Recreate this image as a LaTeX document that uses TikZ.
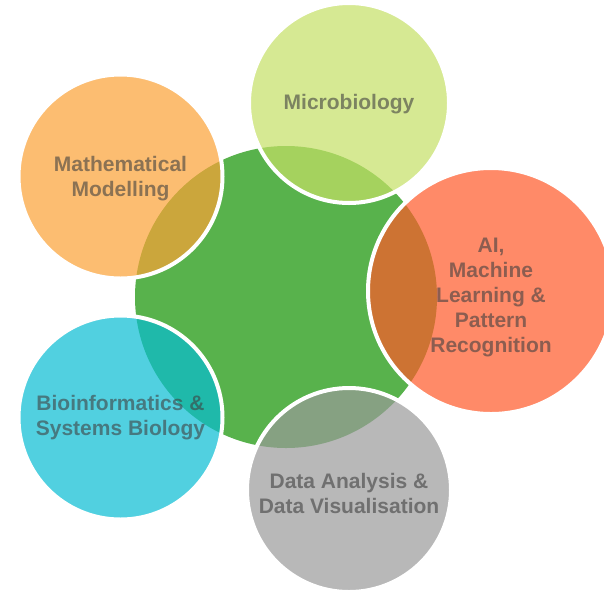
\documentclass[tikz,border=0pt]{standalone}
\usepackage{fontspec}
\setmainfont{Liberation Sans}
\definecolor{hubgreen}{RGB}{88,178,76}
\definecolor{microcol}{RGB}{198,225,102}
\definecolor{mathcol}{RGB}{252,162,54}
\definecolor{aicol}{RGB}{255,89,41}
\definecolor{biocol}{RGB}{8,189,211}
\definecolor{datacol}{RGB}{154,154,154}
\tikzset{
  hub/.style={circle, fill=hubgreen, inner sep=0pt, minimum size=302pt},
  topic/.style={circle, inner sep=0pt, draw=white, line width=4pt,
    fill opacity=0.7, draw opacity=1},
  topictext/.style={inner sep=0pt, text=black!75, text opacity=0.6,
    align=center, font=\fontsize{21}{25}\selectfont\bfseries},
}
\begin{document}
\begin{tikzpicture}[x=1pt,y=-1pt]
  \clip (0,0) rectangle (604,595);
  \fill[white] (0,0) rectangle (604,595);
  % central disc
  \node[hub] (hub) at (286,297) {};
  % surrounding topics, each with its caption near the centre
  \node[topic, fill=microcol, minimum size=200pt,
    label={[topictext, yshift=-1pt]center:Microbiology}] (micro) at (349,103) {};
  \node[topic, fill=mathcol, minimum size=204pt,
    label={[topictext, yshift=-2pt]center:Mathematical\\Modelling}] (math) at (120.5,176.5) {};
  \node[topic, fill=aicol, minimum size=246pt,
    label={[topictext, yshift=-6pt]center:AI,\\Machine\\Learning \&\\Pattern\\Recognition}] (ai) at (491,291) {};
  \node[topic, fill=biocol, minimum size=204pt,
    label={[topictext, yshift=-0.5pt]center:Bioinformatics \&\\Systems Biology}] (bio) at (120.5,417.5) {};
  \node[topic, fill=datacol, minimum size=204pt,
    label={[topictext, yshift=-3pt]center:Data Analysis \&\\Data Visualisation}] (data) at (349,490) {};
\end{tikzpicture}
\end{document}
